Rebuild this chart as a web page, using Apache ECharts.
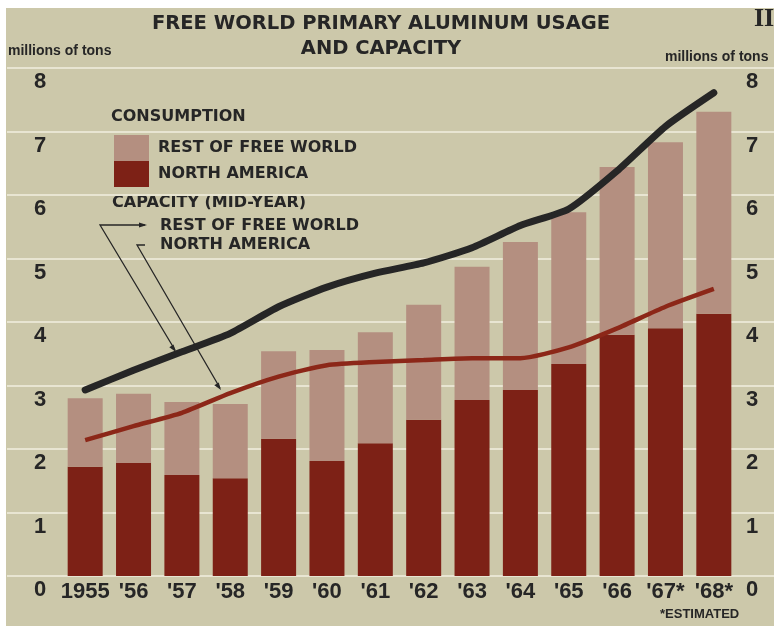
<!DOCTYPE html>
<html>
<head>
<meta charset="utf-8">
<script src="https://cdn.jsdelivr.net/npm/echarts@6/dist/echarts.min.js"></script>
<style>
html, body { margin: 0; padding: 0; background: #fff; }
#aluminum { width: 774px; height: 630px; }
</style>
</head>
<body>
<div id="aluminum"></div>
<script>
// chart data (millions of tons)
var years = ["1955", "'56", "'57", "'58", "'59", "'60", "'61", "'62", "'63", "'64", "'65", "'66", "'67*", "'68*"];
var consumptionNorthAmerica = [1.72, 1.78, 1.59, 1.54, 2.16, 1.81, 2.09, 2.46, 2.77, 2.93, 3.34, 3.80, 3.90, 4.13];
var consumptionRestOfWorld = [1.08, 1.09, 1.15, 1.17, 1.38, 1.75, 1.75, 1.81, 2.10, 2.33, 2.39, 2.64, 2.93, 3.18];
var capacityTotal = [2.93, 3.24, 3.53, 3.82, 4.24, 4.55, 4.77, 4.93, 5.17, 5.52, 5.78, 6.38, 7.08, 7.61];
var capacityNorthAmerica = [2.14, 2.36, 2.57, 2.88, 3.14, 3.32, 3.37, 3.40, 3.43, 3.43, 3.60, 3.90, 4.24, 4.52];

var font = "'Liberation Sans', Arial, sans-serif";
var wide = "'DejaVu Sans', sans-serif";
var ink = "#262626";

var chart = echarts.init(document.getElementById("aluminum"));

var tickLabel = {
  fontFamily: font,
  fontSize: 22,
  fontWeight: "bold",
  color: ink,
  verticalAlign: "top",
  padding: [3, 0, 0, 0],
  align: "center",
};

var option = {
  backgroundColor: "#ccc8aa",
  animation: false,
  title: {
    text: "FREE WORLD PRIMARY ALUMINUM USAGE\nAND CAPACITY",
    left: 376,
    top: 6,
    textAlign: "center",
    textStyle: {
      fontFamily: wide,
      fontSize: 19.5,
      fontWeight: "bold",
      color: ink,
      lineHeight: 25,
    },
  },
  legend: {
    data: ["REST OF FREE WORLD", "NORTH AMERICA"],
    orient: "vertical",
    left: 114,
    top: 135,
    padding: 0,
    icon: "rect",
    itemWidth: 35,
    itemHeight: 26,
    itemGap: 0,
    selectedMode: false,
    textStyle: {
      fontFamily: wide,
      fontSize: 16,
      fontWeight: "bold",
      color: ink,
      padding: [0, 0, 0, 4],
    },
  },
  grid: [
    { left: 61, right: 36, top: 68, bottom: 54 },
    // wide grid, only used for the gridlines that run across the page
    { left: 7, right: 0, top: 68, bottom: 54 },
  ],
  xAxis: [
    {
      type: "category",
      data: years,
      gridIndex: 0,
      axisLine: { show: false },
      axisTick: { show: false },
      axisLabel: {
        fontFamily: font,
        fontSize: 22,
        fontWeight: "bold",
        color: ink,
        margin: 5,
        interval: 0,
      },
    },
    { type: "value", gridIndex: 1, show: false, min: 0, max: 1 },
  ],
  yAxis: [
    {
      type: "value",
      gridIndex: 0,
      min: 0,
      max: 8,
      interval: 1,
      position: "left",
      splitLine: { show: false },
      axisLine: { show: false },
      axisTick: { show: false },
      axisLabel: Object.assign({ margin: 21 }, tickLabel),
    },
    {
      type: "value",
      gridIndex: 0,
      min: 0,
      max: 8,
      interval: 1,
      position: "right",
      splitLine: { show: false },
      axisLine: { show: false },
      axisTick: { show: false },
      axisLabel: Object.assign({ margin: 14 }, tickLabel),
    },
    {
      type: "value",
      gridIndex: 1,
      min: 0,
      max: 8,
      interval: 1,
      axisLine: { show: false },
      axisTick: { show: false },
      axisLabel: { show: false },
      splitLine: { show: true, lineStyle: { color: "#e8e5d2", width: 2 } },
    },
  ],
  series: [
    {
      name: "NORTH AMERICA",
      type: "bar",
      stack: "consumption",
      data: consumptionNorthAmerica,
      barWidth: 35,
      itemStyle: { color: "#7d2116" },
    },
    {
      name: "REST OF FREE WORLD",
      type: "bar",
      stack: "consumption",
      data: consumptionRestOfWorld,
      barWidth: 35,
      itemStyle: { color: "#b48f80" },
    },
    {
      name: "capacity north america",
      type: "line",
      data: capacityNorthAmerica,
      smooth: 0.2,
      showSymbol: false,
      z: 4,
      lineStyle: { color: "#8c2718", width: 4.5 },
    },
    {
      name: "capacity total",
      type: "line",
      data: capacityTotal,
      smooth: 0.2,
      showSymbol: false,
      z: 5,
      lineStyle: { color: "#262626", width: 7, cap: "round" },
    },
  ],
  graphic: [
    // scan edges
    { type: "rect", shape: { x: 0, y: 0, width: 774, height: 8 }, style: { fill: "#fff" }, z: 100 },
    { type: "rect", shape: { x: 0, y: 0, width: 6, height: 630 }, style: { fill: "#fff" }, z: 100 },
    { type: "rect", shape: { x: 0, y: 626, width: 774, height: 4 }, style: { fill: "#fff" }, z: 100 },
    {
      type: "text", left: 8, top: 44,
      style: { text: "millions of tons", font: "bold 14px " + font, fill: ink },
    },
    {
      type: "text", left: 665, top: 50,
      style: { text: "millions of tons", font: "bold 14px " + font, fill: ink },
    },
    {
      type: "text", left: 754, top: 6,
      style: { text: "II", font: "bold 26px 'Liberation Serif', serif", fill: ink },
    },
    {
      type: "text", left: 111, top: 109,
      style: { text: "CONSUMPTION", font: "bold 16px " + wide, fill: ink },
    },
    {
      type: "text", left: 112, top: 195,
      style: { text: "CAPACITY (MID-YEAR)", font: "bold 16px " + wide, fill: ink },
    },
    {
      type: "text", left: 160, top: 218,
      style: { text: "REST OF FREE WORLD", font: "bold 16px " + wide, fill: ink },
    },
    {
      type: "text", left: 160, top: 237,
      style: { text: "NORTH AMERICA", font: "bold 16px " + wide, fill: ink },
    },
    {
      type: "text", left: 660, top: 608,
      style: { text: "*ESTIMATED", font: "bold 13px " + font, fill: ink },
    },
    // leader lines
    {
      type: "polyline", z: 10,
      shape: { points: [[145, 225], [100, 225], [175, 350]] },
      style: { stroke: ink, lineWidth: 1.3, fill: null },
    },
    {
      type: "polygon", z: 10,
      shape: { points: [[147, 225], [139, 222.5], [139, 227.5]] },
      style: { fill: ink },
    },
    {
      type: "polygon", z: 10,
      shape: { points: [[176, 352], [173.5, 344.5], [169.3, 347.3]] },
      style: { fill: ink },
    },
    {
      type: "polyline", z: 10,
      shape: { points: [[145, 245], [137, 245], [220, 388]] },
      style: { stroke: ink, lineWidth: 1.3, fill: null },
    },
    {
      type: "polygon", z: 10,
      shape: { points: [[221, 390], [218.7, 382.5], [214.3, 385.3]] },
      style: { fill: ink },
    },
  ],
};

chart.setOption(option);
</script>
</body>
</html>
